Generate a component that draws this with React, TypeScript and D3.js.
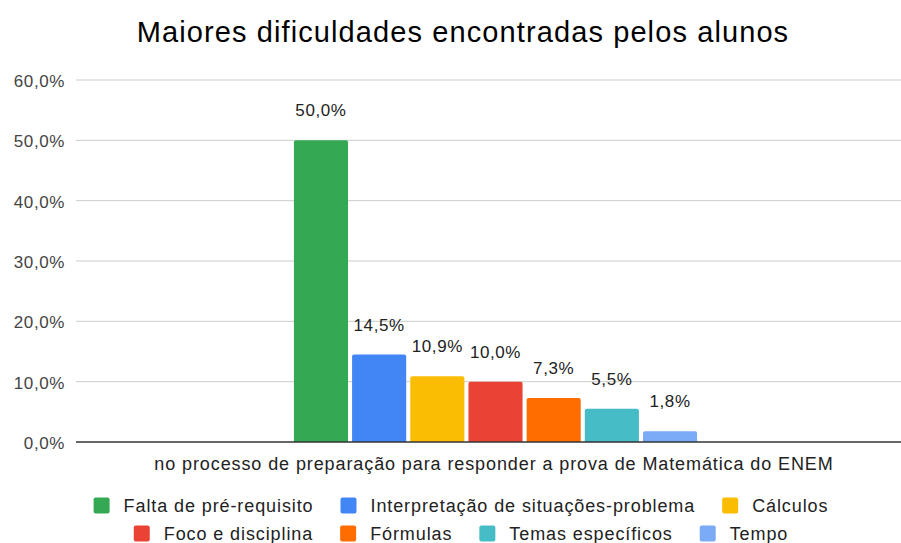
import { useEffect, useRef } from 'react';
import * as d3 from 'd3';

const title = 'Maiores dificuldades encontradas pelos alunos';
const category = 'no processo de preparação para responder a prova de Matemática do ENEM';
const seriesNames = [
  'Falta de pré-requisito',
  'Interpretação de situações-problema',
  'Cálculos',
  'Foco e disciplina',
  'Fórmulas',
  'Temas específicos',
  'Tempo',
];
const seriesValues = [0.5, 0.145, 0.109, 0.1, 0.073, 0.055, 0.018];
const seriesColors = ['#34a853', '#4285f4', '#fbbc04', '#ea4335', '#ff6d01', '#46bdc6', '#7baaf7'];
const yTicks = [0, 0.1, 0.2, 0.3, 0.4, 0.5, 0.6];
const legendRows = [
  [0, 1, 2],
  [3, 4, 5, 6],
];

const width = 901;
const height = 543;
const font = '"Liberation Sans", Arial, sans-serif';
const fmt = (v: number) => (v * 100).toFixed(1).replace('.', ',') + '%';

const App = () => {
  const ref = useRef<SVGSVGElement | null>(null);

  useEffect(() => {
    if (!ref.current) return;
    const svg = d3.select(ref.current);
    svg.selectAll('*').remove();

    const left = 76;
    const top = 80;
    const bottom = 442;

    const y = d3.scaleLinear().domain([0, 0.6]).range([bottom, top]);
    const x0 = d3.scaleBand<string>().domain([category]).range([79, 912]).paddingInner(0).paddingOuter(0.533);
    const x1 = d3
      .scaleBand<number>()
      .domain(d3.range(seriesNames.length))
      .range([0, x0.bandwidth()])
      .paddingInner(0.07);

    // title
    svg
      .append('text')
      .attr('x', 463)
      .attr('y', 42)
      .attr('text-anchor', 'middle')
      .attr('font-size', 29)
      .attr('letter-spacing', 1.1)
      .attr('fill', '#000')
      .text(title);

    // grid + y labels
    const grid = svg.append('g');
    grid
      .selectAll('line')
      .data(yTicks.filter(t => t > 0))
      .join('line')
      .attr('x1', left)
      .attr('x2', width)
      .attr('y1', d => y(d))
      .attr('y2', d => y(d))
      .attr('stroke', '#cccccc')
      .attr('stroke-width', 1);
    grid
      .selectAll('text')
      .data(yTicks)
      .join('text')
      .attr('x', 65)
      .attr('y', d => y(d) + 7)
      .attr('text-anchor', 'end')
      .attr('font-size', 17)
      .attr('letter-spacing', 0.6)
      .attr('fill', '#444')
      .text(d => fmt(d));

    // bars
    const g = svg.append('g').attr('transform', `translate(${x0(category)},0)`);
    g.selectAll('path')
      .data(seriesValues)
      .join('path')
      .attr('fill', (_, i) => seriesColors[i])
      .attr('d', (d, i) => {
        const bx = x1(i) as number;
        const bw = x1.bandwidth();
        const by = y(d);
        const r = Math.min(2, (bottom - by) / 2);
        return `M${bx},${bottom}V${by + r}Q${bx},${by} ${bx + r},${by}H${bx + bw - r}Q${bx + bw},${by} ${bx + bw},${by + r}V${bottom}Z`;
      });
    g.selectAll('text')
      .data(seriesValues)
      .join('text')
      .attr('x', (_, i) => (x1(i) as number) + x1.bandwidth() / 2)
      .attr('y', d => y(d) - 24)
      .attr('text-anchor', 'middle')
      .attr('font-size', 17)
      .attr('letter-spacing', 0.6)
      .attr('fill', '#222')
      .text(d => fmt(d));

    // baseline
    svg
      .append('line')
      .attr('x1', left)
      .attr('x2', width)
      .attr('y1', y(0))
      .attr('y2', y(0))
      .attr('stroke', '#333')
      .attr('stroke-width', 1.5);

    // category label
    svg
      .append('text')
      .attr('x', 494)
      .attr('y', 470)
      .attr('text-anchor', 'middle')
      .attr('font-size', 18)
      .attr('letter-spacing', 0.9)
      .attr('fill', '#222')
      .text(category);

    // legend
    const sq = 16;
    const gapText = 14;
    const gapItem = 27;
    const rowY = [505.5, 533.5];
    legendRows.forEach((row, ri) => {
      const lg = svg.append('g');
      let cx = 0;
      row.forEach(i => {
        const item = lg.append('g').attr('transform', `translate(${cx},0)`);
        item
          .append('rect')
          .attr('x', 0)
          .attr('y', rowY[ri] - sq / 2)
          .attr('width', sq)
          .attr('height', sq)
          .attr('rx', 2)
          .attr('fill', seriesColors[i]);
        const t = item
          .append('text')
          .attr('x', sq + gapText)
          .attr('y', rowY[ri] + 6.5)
          .attr('font-size', 18)
          .attr('letter-spacing', 0.9)
          .attr('fill', '#222')
          .text(seriesNames[i]);
        const tw = (t.node() as SVGTextElement).getComputedTextLength();
        cx += sq + gapText + tw + gapItem;
      });
      const total = cx - gapItem;
      lg.attr('transform', `translate(${461 - total / 2},0)`);
    });
  }, []);

  return (
    <svg
      ref={ref}
      width={width}
      height={height}
      viewBox={`0 0 ${width} ${height}`}
      style={{ display: 'block', position: 'absolute', left: 0, top: 0, background: '#fff', fontFamily: font }}
    />
  );
};

export default App;
